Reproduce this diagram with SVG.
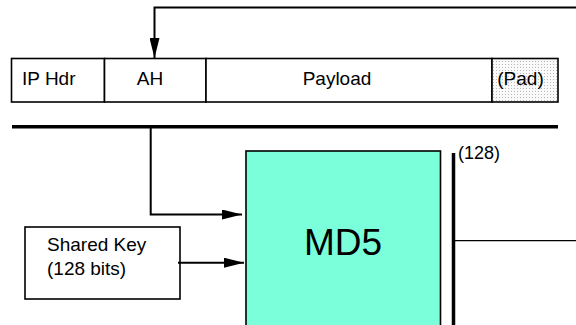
<svg xmlns="http://www.w3.org/2000/svg" width="576" height="325" viewBox="0 0 576 325">
<style>
text{font-family:"Liberation Sans",Arial,sans-serif;fill:#000}
.box{fill:#fff;stroke:#000;stroke-width:1.6}
.lbl{font-size:19px}
.wire{fill:none;stroke:#000;stroke-width:2}
.thick{fill:none;stroke:#000;stroke-width:3.5}
.thin{fill:none;stroke:#000;stroke-width:1.2}
</style>
<defs>
<pattern id="dots" width="3" height="3" patternUnits="userSpaceOnUse">
<rect width="3" height="3" fill="#fafafa"/>
<rect x="1" y="1" width="1" height="1" fill="#b8b8b8"/>
</pattern>
<marker id="ah" viewBox="0 0 20 10" refX="20" refY="5" markerWidth="20" markerHeight="10" markerUnits="userSpaceOnUse" orient="auto">
<path d="M0,0 L20,5 L0,10 Z" fill="#000"/>
</marker>
</defs>
<g id="packet">
<g id="iphdr"><rect class="box" x="11.5" y="58.5" width="93" height="43.5"/><text class="lbl" x="22" y="85">IP Hdr</text></g>
<g id="ah-field"><rect class="box" x="104.5" y="58.5" width="101.5" height="43.5"/><text class="lbl" x="150" y="85" text-anchor="middle">AH</text></g>
<g id="payload"><rect class="box" x="206" y="58.5" width="286" height="43.5"/><text class="lbl" x="337" y="85" text-anchor="middle">Payload</text></g>
<g id="pad"><rect x="492" y="58.5" width="66" height="43.5" fill="url(#dots)" stroke="#000" stroke-width="1.6"/><text class="lbl" x="520.5" y="85" text-anchor="middle">(Pad)</text></g>
</g>
<g id="sharedkey"><rect class="box" x="25" y="227" width="155" height="72"/><text class="lbl" x="47" y="251">Shared Key</text><text class="lbl" x="47" y="275">(128 bits)</text></g>
<g id="md5"><rect x="246" y="151" width="194.5" height="190" fill="#7AFFDA" stroke="#000" stroke-width="1.6"/><text x="343" y="255" font-size="37" text-anchor="middle">MD5</text></g>
<g id="connectors">
<line class="thick" x1="12" y1="126.7" x2="558" y2="126.7"/>
<polyline class="wire" points="576,7.5 154.5,7.5 154.5,58" marker-end="url(#ah)"/>
<polyline class="wire" points="150.7,126.7 150.7,214.5 242,214.5" marker-end="url(#ah)"/>
<line class="wire" x1="178" y1="262.7" x2="244" y2="262.7" marker-end="url(#ah)"/>
<line class="thick" x1="453.5" y1="153" x2="453.5" y2="325"/>
<line class="thin" x1="454" y1="240.7" x2="576" y2="240.7"/>
<text x="458" y="158.5" font-size="18">(128)</text>
</g>
</svg>
